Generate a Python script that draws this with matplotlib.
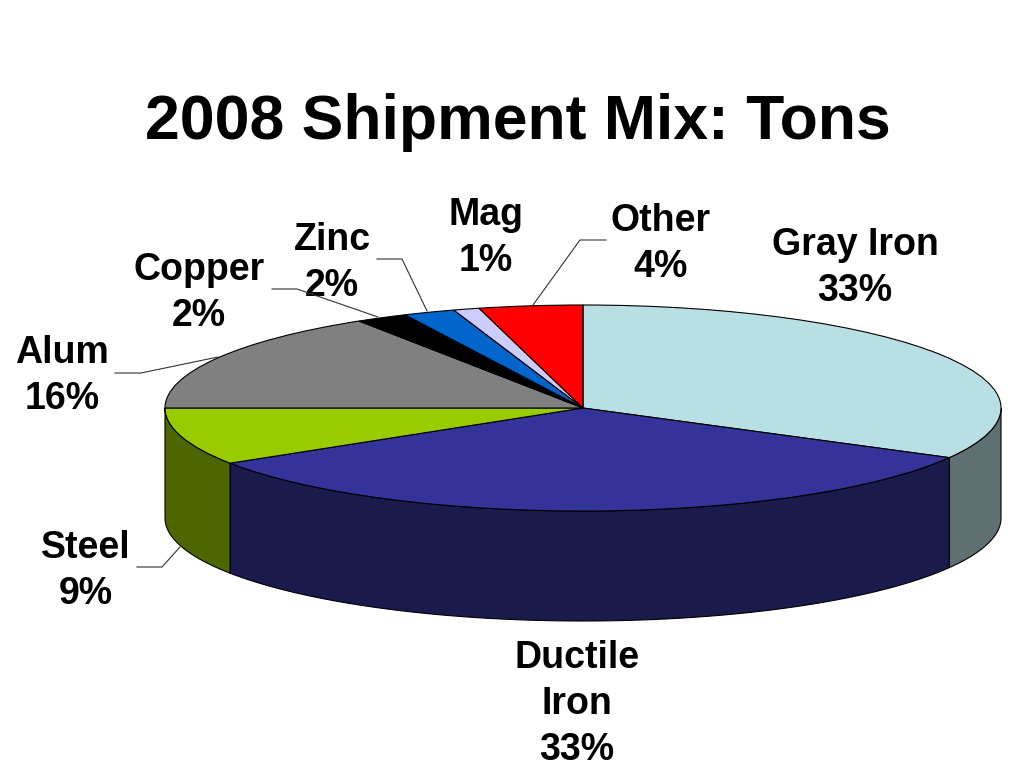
import numpy as np
from matplotlib import pyplot as plt

plt.rcParams['font.family'] = ['Liberation Sans', 'DejaVu Sans']

# Creating dataset
categories = ['Gray Iron', 'Ductile\nIron', 'Steel', 'Alum', 'Copper', 'Zinc', 'Mag', 'Other']
values = [33, 33, 9, 16, 2, 2, 1, 4]
top_colors = ['#B8DFE3', '#333399', '#99CC00', '#808080', '#000000', '#0066CC', '#CCCCFF', '#FF0000']
side_colors = ['#5F7072', '#1A1A4D', '#4D6600', '#404040', '#000000', '#003366', '#666680', '#800000']

# pie geometry in pixels
cx, cy = 583, 408
rx, ry = 418, 103
depth = 110

fig = plt.figure(figsize=(10.24, 7.68), dpi=100)

# pixel axes for the text and leader lines
ax_px = fig.add_axes([0, 0, 1, 1])
ax_px.set_xlim(0, 1024)
ax_px.set_ylim(768, 0)
ax_px.axis('off')

# pie axes, unit circle is stretched to an ellipse by the limits
ax = fig.add_axes([0, 0, 1, 1], zorder=1)
ax.patch.set_alpha(0)

# side walls, only the front half of the rim can be seen
fracs = np.cumsum([0] + values) / sum(values)
for i in range(len(values)):
    a0 = 90 - 360 * fracs[i]
    a1 = 90 - 360 * fracs[i + 1]
    a0 = min(a0, 0)
    a1 = max(a1, -180)
    if a0 <= a1:
        continue
    t = np.radians(np.linspace(a0, a1, 120))
    x = np.cos(t)
    y = np.sin(t)
    d = depth / ry
    ax.fill(np.r_[x, x[::-1]], np.r_[y, y[::-1] - d],
            facecolor=side_colors[i], edgecolor='black', linewidth=0.8)

# top face
ax.pie(values, colors=top_colors, startangle=90, counterclock=False,
       wedgeprops={'edgecolor': 'black', 'linewidth': 0.8})

ax.set_xlim(-cx / rx, (1024 - cx) / rx)
ax.set_ylim((cy - 768) / ry, cy / ry)
ax.set_aspect('auto')
ax.set_position([0, 0, 1, 1])

# title
ax_px.text(518, 123, '2008 Shipment Mix: Tons', fontsize=45, fontweight='bold',
           ha='center', va='center', color='black')

# labels
label_x = [855, 577, 86, 62, 199, 332, 486, 661]
label_y = [268, 704, 571, 376, 293, 263, 238, 244]
for i in range(len(categories)):
    ax_px.text(label_x[i], label_y[i], f'{categories[i]}\n{values[i]}%', fontsize=27,
               fontweight='bold', ha='center', va='center', linespacing=1.36, color='black')

# leader lines
leaders = {
    'Alum': ([115, 141, 218], [373, 373, 357]),
    'Copper': ([272, 297, 378], [289, 289, 317]),
    'Zinc': ([377, 402, 427], [259, 259, 311]),
    'Other': ([606, 580, 533], [240, 240, 305]),
    'Steel': ([137, 162, 180], [567, 567, 547]),
}
for name in leaders:
    ax_px.plot(leaders[name][0], leaders[name][1], color='#333333', linewidth=0.8, zorder=5)

ax_px.set_zorder(2)
ax_px.patch.set_alpha(0)

fig.savefig('out.png', dpi=100)
plt.close()
